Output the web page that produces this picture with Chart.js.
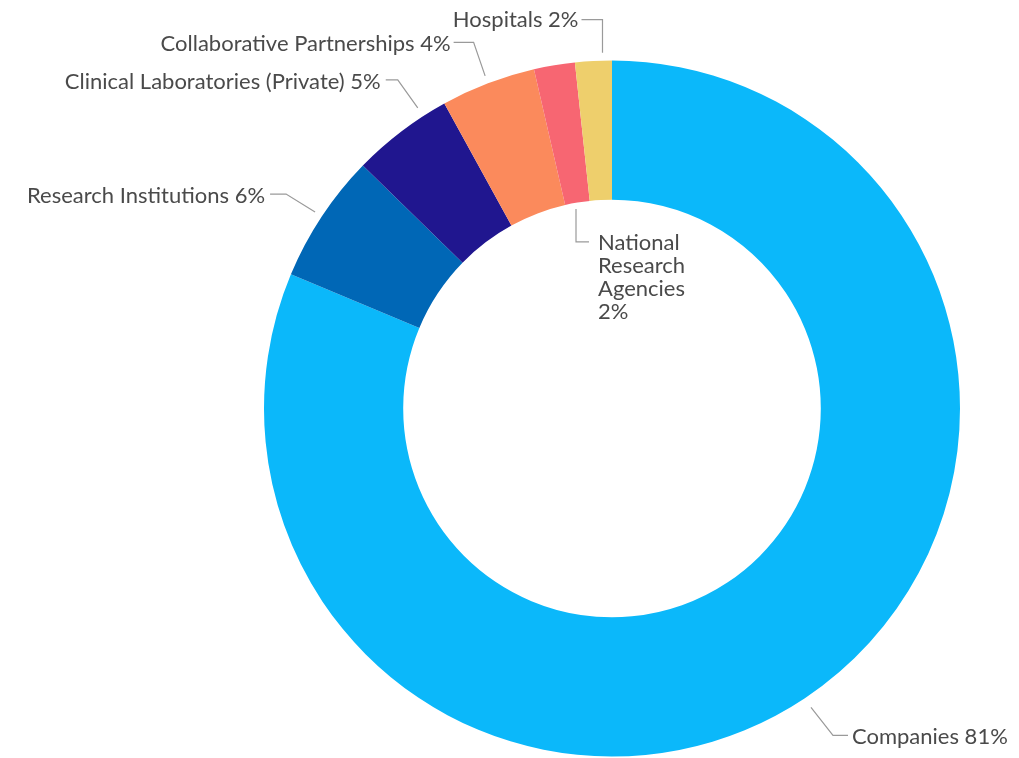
<!DOCTYPE html>
<html>
<head>
<meta charset="utf-8">
<script src="https://cdn.jsdelivr.net/npm/chart.js@4/dist/chart.umd.min.js"></script>
<style>
  html, body { margin: 0; padding: 0; background: #ffffff; }
  #wrap { width: 1019px; height: 758px; }
</style>
</head>
<body>
<div id="wrap"><canvas id="c" width="1019" height="758"></canvas></div>
<script>
// ---- data ----
const categories = ["Companies", "Research Institutions", "Clinical Laboratories (Private)", "Collaborative Partnerships", "National Research Agencies", "Hospitals"];
const shares = [81.3, 6.0, 4.7, 4.4, 1.9, 1.7];
const displayLabels = [
  ["Companies 81%"],
  ["Research Institutions 6%"],
  ["Clinical Laboratories (Private) 5%"],
  ["Collaborative Partnerships 4%"],
  ["National", "Research", "Agencies", "2%"],
  ["Hospitals 2%"]
];

// ---- styles ----
const sliceColors = ["#0bb8fa", "#0067b6", "#20168f", "#fb8a5c", "#f76672", "#eecf6c"];
// leader layout: t = fraction along arc, edge radius + gap, elbow offset, tail length, text side
const leaderLayout = [
  { t: 0.50, edge: "outer", gap: 11, elbow: [22, 28],   tail: 15,  align: "left",  pad: 4, dy: 2 },
  { t: 0.50, edge: "outer", gap: 8,  elbow: [-29, -18], tail: -16, align: "right", pad: 5, dy: 2 },
  { t: 0.76, edge: "outer", gap: 10, elbow: [-20, -28], tail: -12, align: "right", pad: 5, dy: 2 },
  { t: 0.50, edge: "outer", gap: 8,  elbow: [-11.5, -33.5], tail: -20, align: "right", pad: 3, dy: 2 },
  { t: 0.40, edge: "inner", gap: -6, elbow: [0, 33],    tail: 13,  align: "left",  pad: 9, dy: 1 },
  { t: 0.75, edge: "outer", gap: 8,  elbow: [0, -33],   tail: -21, align: "right", pad: 3, dy: 0 }
];
const labelFont = "22px Lato, 'Open Sans', sans-serif";
const labelColor = "#4a4a4a";
const leaderColor = "#9a9a9a";
const lineHeight = 23;

const calloutPlugin = {
  id: "callouts",
  afterDatasetsDraw(chart) {
    const ctx = chart.ctx;
    const meta = chart.getDatasetMeta(0);
    ctx.save();
    ctx.font = labelFont;
    ctx.textBaseline = "middle";
    meta.data.forEach((arc, i) => {
      const L = leaderLayout[i];
      const p = arc.getProps(["x", "y", "startAngle", "endAngle", "innerRadius", "outerRadius"], true);
      const a = p.startAngle + (p.endAngle - p.startAngle) * L.t;
      const r = (L.edge === "outer" ? p.outerRadius : p.innerRadius) + L.gap;
      const x0 = p.x + r * Math.cos(a);
      const y0 = p.y + r * Math.sin(a);
      const x1 = x0 + L.elbow[0];
      const y1 = y0 + L.elbow[1];
      const x2 = x1 + L.tail;
      ctx.strokeStyle = leaderColor;
      ctx.lineWidth = 1.2;
      ctx.beginPath();
      ctx.moveTo(x0, y0);
      ctx.lineTo(x1, y1);
      ctx.lineTo(x2, y1);
      ctx.stroke();
      ctx.fillStyle = labelColor;
      ctx.textAlign = L.align;
      const tx = L.align === "left" ? x2 + L.pad : x2 - L.pad;
      displayLabels[i].forEach((line, k) => {
        ctx.fillText(line, tx, y1 + L.dy + k * lineHeight);
      });
    });
    ctx.restore();
  }
};

new Chart(document.getElementById("c"), {
  type: "doughnut",
  data: {
    labels: categories,
    datasets: [{
      data: shares,
      backgroundColor: sliceColors,
      borderWidth: 0,
      hoverOffset: 0
    }]
  },
  options: {
    responsive: false,
    animation: false,
    devicePixelRatio: 1,
    cutout: "60%",
    layout: { padding: { left: 264, right: 59, top: 60.5, bottom: 1.5 } },
    plugins: {
      legend: { display: false },
      tooltip: { enabled: false }
    }
  },
  plugins: [calloutPlugin]
});
</script>
</body>
</html>
